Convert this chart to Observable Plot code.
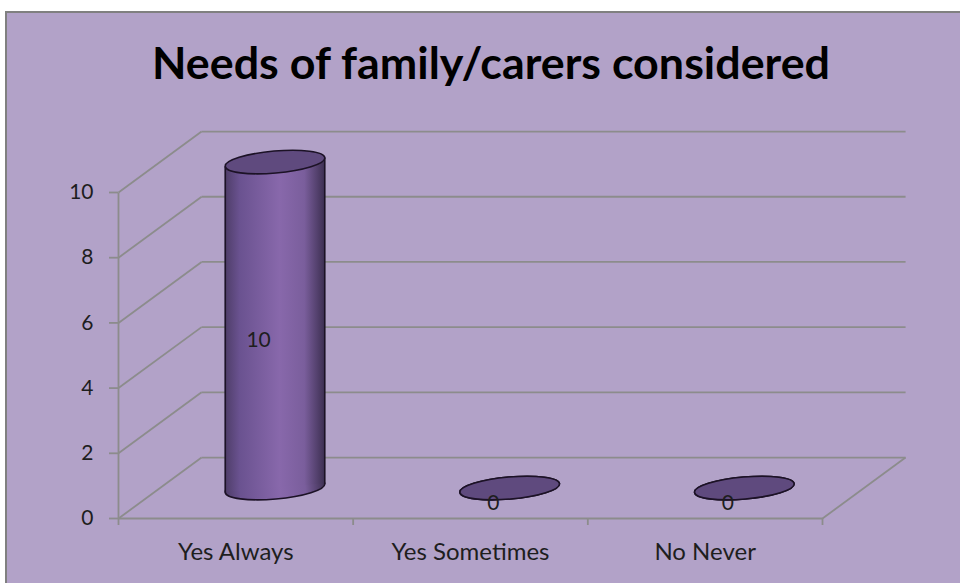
<!DOCTYPE html>
<html>
<head>
<meta charset="utf-8">
<script src="https://cdn.jsdelivr.net/npm/d3@7"></script>
<script src="https://cdn.jsdelivr.net/npm/@observablehq/plot@0.6"></script>
<style>
  html, body { margin: 0; padding: 0; background: #ffffff; }
  #chart {
    position: absolute; left: 5px; top: 11px;
    width: 953px; height: 570px;
    background: #b2a2c8;
    border-top: 2px solid #808080; border-left: 2px solid #808080;
    overflow: hidden;
  }
  #chart svg { display: block; }
  #title { position: absolute; left: 0; top: 0; pointer-events: none; }
</style>
</head>
<body>
<div id="chart"></div>
<script>
// ---- data ----
const title = "Needs of family/carers considered";
const categories = ["Yes Always", "Yes Sometimes", "No Never"];
const counts = [10, 0, 0];
const yTicks = [0, 2, 4, 6, 8, 10];

// ---- 3D depth geometry (in data units) ----
const DEPTH_X = 0.354;   // depth offset along x (fraction of a category)
const DEPTH_Y = 1.87;    // depth offset along y (value units)
const RADIUS_X = 0.212;  // cylinder radius (fraction of a category)
const TILT_Y = 0.134;    // ellipse tilt (value units)
const CENTER_SHIFT = -0.01;
const X0 = -0.5, X1 = categories.length - 0.5;
const boundaries = d3.range(categories.length + 1).map(i => i - 0.5);

const bars = categories.map((cat, i) => ({
  cat, i, value: counts[i], cx: i + DEPTH_X / 2 + CENTER_SHIFT, base: DEPTH_Y / 2
}));
const edges = bars.flatMap(b => [
  {cat: b.cat, x: b.cx - RADIUS_X, y1: b.base - TILT_Y, y2: b.base + b.value - TILT_Y},
  {cat: b.cat, x: b.cx + RADIUS_X, y1: b.base + TILT_Y, y2: b.base + b.value + TILT_Y}
]);

// custom ellipse symbol
const ellipse = {
  draw(ctx, size) {
    const rx = Math.sqrt(size / Math.PI), ry = rx * 0.22, k = 0.5523;
    ctx.moveTo(rx, 0);
    ctx.bezierCurveTo(rx, ry * k, rx * k, ry, 0, ry);
    ctx.bezierCurveTo(-rx * k, ry, -rx, ry * k, -rx, 0);
    ctx.bezierCurveTo(-rx, -ry * k, -rx * k, -ry, 0, -ry);
    ctx.bezierCurveTo(rx * k, -ry, rx, -ry * k, rx, 0);
    ctx.closePath();
  }
};

const NS = "http://www.w3.org/2000/svg";
function gradientDefs() {
  const defs = document.createElementNS(NS, "defs");
  const g = document.createElementNS(NS, "linearGradient");
  g.setAttribute("id", "cylBody");
  g.setAttribute("x1", "0"); g.setAttribute("x2", "1");
  g.setAttribute("y1", "0"); g.setAttribute("y2", "0");
  [["0%", "#4e3d68"], ["15%", "#6a5290"], ["55%", "#8868ab"], ["80%", "#7a5e9c"], ["100%", "#3e3053"]]
    .forEach(([o, c]) => {
      const s = document.createElementNS(NS, "stop");
      s.setAttribute("offset", o); s.setAttribute("stop-color", c);
      g.appendChild(s);
    });
  defs.appendChild(g);
  return defs;
}

const GRID = "#8c8c8c";
const OUTLINE = "#1c1226";

const plot = Plot.plot({
  width: 953,
  height: 570,
  marginLeft: 111,
  marginRight: 138,
  marginTop: 179,
  marginBottom: 65,
  style: {background: "transparent", fontFamily: "Lato, 'Open Sans', sans-serif", color: "#1e1e1e", overflow: "visible"},
  x: {domain: [X0, X1]},
  y: {domain: [0, 10]},
  marks: [
    gradientDefs,
    // back wall gridlines
    Plot.link(yTicks, {x1: () => X0 + DEPTH_X, x2: () => X1 + DEPTH_X, y1: d => d + DEPTH_Y, y2: d => d + DEPTH_Y, stroke: GRID, strokeWidth: 1.8}),
    // side wall diagonals
    Plot.link(yTicks, {x1: () => X0, x2: () => X0 + DEPTH_X, y1: d => d, y2: d => d + DEPTH_Y, stroke: GRID, strokeWidth: 1.8}),
    // floor right edge
    Plot.link([0], {x1: () => X1, x2: () => X1 + DEPTH_X, y1: d => d, y2: d => d + DEPTH_Y, stroke: GRID, strokeWidth: 1.8}),
    // front floor edge and value axis line
    Plot.link([0], {x1: () => X0, x2: () => X1, y1: d => d, y2: d => d, stroke: GRID, strokeWidth: 1.8}),
    Plot.link([0], {x1: () => X0, x2: () => X0, y1: () => 0, y2: () => 10, stroke: GRID, strokeWidth: 1.8}),
    // axes
    Plot.axisY({ticks: yTicks, tickSize: 9, tickPadding: 16, stroke: GRID, strokeWidth: 1.8, fill: "#1e1e1e", fontSize: 21, label: null}),
    Plot.axisX({ticks: boundaries, tickSize: 7, tickFormat: () => "", stroke: GRID, strokeWidth: 1.8, label: null}),
    Plot.axisX({ticks: d3.range(categories.length), tickSize: 0, tickPadding: 24, tickFormat: i => categories[i], fill: "#1e1e1e", fontSize: 24, label: null}),
    // cylinders: bottom ellipse, body, sides, top ellipse
    Plot.dot(bars, {x: "cx", y: "base", r: 50, symbol: ellipse, rotate: -5, fill: "url(#cylBody)", stroke: OUTLINE, strokeWidth: 1.6}),
    Plot.areaY(edges, {x: "x", y1: "y1", y2: "y2", z: "cat", fill: "url(#cylBody)", curve: "linear"}),
    Plot.link(edges.filter(e => e.y2 > e.y1), {x1: "x", x2: "x", y1: "y1", y2: "y2", stroke: OUTLINE, strokeWidth: 1.6}),
    Plot.dot(bars, {x: "cx", y: d => d.base + d.value, r: 50, symbol: ellipse, rotate: -5, fill: "#5f4a7e", stroke: OUTLINE, strokeWidth: 1.6}),
    // data labels
    Plot.text(bars, {x: d => d.cx - 0.07, y: d => d.value / 2 + 0.48, text: d => String(d.value), fontSize: 21, fill: "#1e1e1e"})
  ]
});

const chart = document.getElementById("chart");
chart.appendChild(plot);

// title above the plot area
const t = document.createElementNS(NS, "svg");
t.setAttribute("id", "title");
t.setAttribute("width", 953); t.setAttribute("height", 120);
const tt = document.createElementNS(NS, "text");
tt.setAttribute("x", 484); tt.setAttribute("y", 66);
tt.setAttribute("text-anchor", "middle");
tt.setAttribute("font-family", "Lato, 'Open Sans', sans-serif");
tt.setAttribute("font-weight", "700");
tt.setAttribute("font-size", "43");
tt.setAttribute("fill", "#000");
tt.setAttribute("textLength", "678");
tt.setAttribute("lengthAdjust", "spacingAndGlyphs");
tt.textContent = title;
t.appendChild(tt);
chart.appendChild(t);
</script>
</body>
</html>
